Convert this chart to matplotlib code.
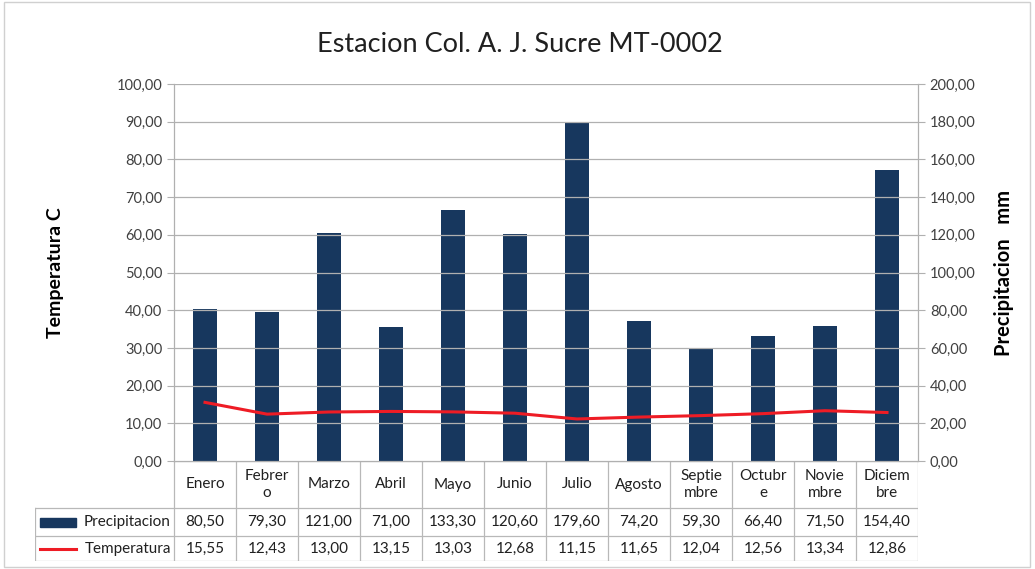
import matplotlib.pyplot as plt
import numpy as np
from matplotlib.patches import Rectangle

plt.rcParams['font.family'] = ['Lato', 'DejaVu Sans']

meses = ['Enero', 'Febrer\no', 'Marzo', 'Abril', 'Mayo', 'Junio', 'Julio',
         'Agosto', 'Septie\nmbre', 'Octubr\ne', 'Novie\nmbre', 'Diciem\nbre']
precipitacion = [80.50, 79.30, 121.00, 71.00, 133.30, 120.60, 179.60,
                 74.20, 59.30, 66.40, 71.50, 154.40]
temperatura = [15.55, 12.43, 13.00, 13.15, 13.03, 12.68, 11.15,
               11.65, 12.04, 12.56, 13.34, 12.86]

azul = '#17375e'
rojo = '#ee1c25'
gris = '#b0b0b0'

def fmt(v):
    return ('%.2f' % v).replace('.', ',')

W, H = 1035, 569
fig = plt.figure(figsize=(W / 100, H / 100), dpi=100)
fig.add_artist(Rectangle((4 / W, 2 / H), 1026 / W, 565 / H, transform=fig.transFigure,
                         fill=False, edgecolor='#d0d0d0', lw=1))

# plot area in pixels
x0, x1, ytop, ybot = 174, 918, 84, 461
ax = fig.add_axes([x0 / W, 1 - ybot / H, (x1 - x0) / W, (ybot - ytop) / H])
ax2 = ax.twinx()
x = np.arange(len(meses))

ax2.bar(x, precipitacion, width=0.38, color=azul, zorder=2)
ax.plot(x, temperatura, color=rojo, lw=2.2, zorder=3)
ax.set_zorder(ax2.get_zorder() + 1)
ax.patch.set_visible(False)

ax.set_xlim(-0.5, 11.5)
ax.set_ylim(0, 100)
ax2.set_ylim(0, 200)
ax.set_yticks(np.arange(0, 101, 10))
ax2.set_yticks(np.arange(0, 201, 20))
ax.set_yticklabels([fmt(v) for v in np.arange(0, 101, 10)])
ax2.set_yticklabels([fmt(v) for v in np.arange(0, 201, 20)])
ax.set_xticks([])
for a in (ax, ax2):
    for s in a.spines.values():
        s.set_color(gris)
    a.tick_params(axis='y', colors=gris, labelcolor='#404040', labelsize=10.5, length=5)
ax.spines['top'].set_visible(False)
ax2.spines['top'].set_visible(False)
ax2.grid(False)
for v in np.arange(10, 101, 10):
    ax.axhline(v, color=gris, lw=0.9, zorder=0)

ax.set_ylabel('Temperatura C', fontsize=14, fontweight='bold', labelpad=38)
ax2.set_ylabel('Precipitacion   mm', fontsize=14.5, fontweight='bold', labelpad=13)
fig.text(520 / W, 1 - 45 / H, 'Estacion Col. A. J. Sucre MT-0002', ha='center', va='center',
         fontsize=19.5, color='#202020')

# data table
tl = 35
tb = 561
rows = [461, 508, 536, 561]
tax = fig.add_axes([tl / W, 1 - tb / H, (x1 - tl) / W, (tb - ybot) / H])
tax.set_xlim(-0.5 - (x0 - tl) / 62.0, 11.5)
tax.set_ylim(tb, ybot)
tax.axis('off')
lc = '#b8b8b8'
xl = -0.5 - (x0 - tl) / 62.0
for i in range(13):
    tax.plot([i - 0.5, i - 0.5], [rows[0], rows[3]], color=lc, lw=0.9)
tax.plot([xl, xl], [rows[1], rows[3]], color=lc, lw=0.9)
tax.plot([-0.5, 11.5], [rows[0], rows[0]], color=lc, lw=0.9)
for r in rows[1:]:
    tax.plot([xl, 11.5], [r, r], color=lc, lw=0.9)

for i, m in enumerate(meses):
    tax.text(i, (rows[0] + rows[1]) / 2, m, ha='center', va='center', fontsize=11,
             color='#202020', linespacing=1.3)
    tax.text(i, (rows[1] + rows[2]) / 2, fmt(precipitacion[i]), ha='center', va='center',
             fontsize=11, color='#202020')
    tax.text(i, (rows[2] + rows[3]) / 2, fmt(temperatura[i]), ha='center', va='center',
             fontsize=11, color='#202020')

tax.add_patch(Rectangle((xl + 0.08, 518), 0.58, 9, color=azul))
tax.text(-0.55, (rows[1] + rows[2]) / 2, 'Precipitacion', ha='right', va='center',
         fontsize=11, color='#202020')
tax.plot([xl + 0.08, xl + 0.66], [549, 549], color=rojo, lw=2.2)
tax.text(-0.55, (rows[2] + rows[3]) / 2, 'Temperatura', ha='right', va='center',
         fontsize=11, color='#202020')

fig.savefig('out.png', dpi=100)
